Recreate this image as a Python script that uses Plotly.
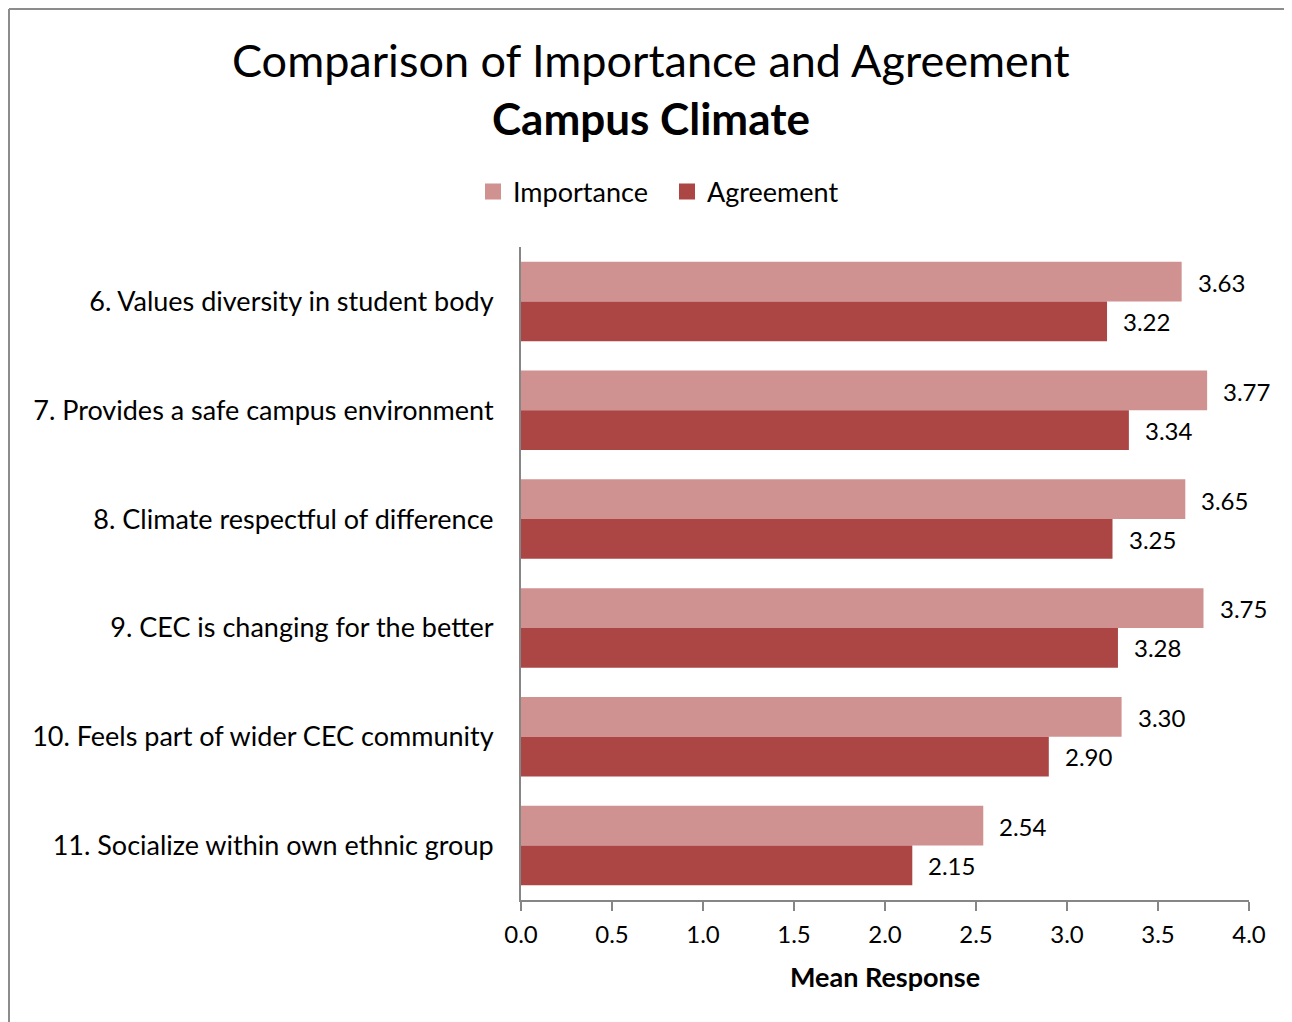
import plotly.graph_objects as go

categories = [
    "6. Values diversity in student body",
    "7. Provides a safe campus environment",
    "8. Climate respectful of difference",
    "9. CEC is changing for the better",
    "10. Feels part of wider CEC community",
    "11. Socialize within own ethnic group",
]
importance = [3.63, 3.77, 3.65, 3.75, 3.30, 2.54]
agreement = [3.22, 3.34, 3.25, 3.28, 2.90, 2.15]
x_ticks = [0.0, 0.5, 1.0, 1.5, 2.0, 2.5, 3.0, 3.5, 4.0]

OFF = 8  # page body margin
W, H = 1292 - OFF, 1022 - OFF
L, T = 521 - OFF, 247 - OFF
R = W - (1249 - OFF)
B = H - (900 - OFF)
PW, PH = W - L - R, H - T - B

def px_x(p):
    return (p - OFF - L) / PW

def px_y(p):
    return (H - B - (p - OFF)) / PH

FONT = "Lato, Calibri, sans-serif"
C_IMP = "#D09291"
C_AGR = "#AB4644"

fig = go.Figure()
fig.add_trace(go.Bar(y=categories, x=importance, name="Importance", orientation="h",
                     marker=dict(color=C_IMP, line=dict(width=0)), showlegend=False))
fig.add_trace(go.Bar(y=categories, x=agreement, name="Agreement", orientation="h",
                     marker=dict(color=C_AGR, line=dict(width=0)), showlegend=False))
for name, col in (("Importance", C_IMP), ("Agreement", C_AGR)):
    fig.add_trace(go.Scatter(x=[None], y=[None], mode="markers", name=name,
                             marker=dict(symbol="square", size=16, color=col)))

annotations = []
for c, v in zip(categories, importance):
    annotations.append(dict(x=v, y=c, xref="x", yref="y", text=f"{v:.2f}", showarrow=False,
                            xanchor="left", xshift=14, yshift=19,
                            font=dict(family=FONT, size=24, color="black")))
for c, v in zip(categories, agreement):
    annotations.append(dict(x=v, y=c, xref="x", yref="y", text=f"{v:.2f}", showarrow=False,
                            xanchor="left", xshift=14, yshift=-20,
                            font=dict(family=FONT, size=24, color="black")))

annotations.append(dict(x=px_x(651), y=px_y(60), xref="paper", yref="paper",
                        text="Comparison of Importance and Agreement", showarrow=False,
                        xanchor="center", yanchor="middle",
                        font=dict(family=FONT, size=45, color="black")))
annotations.append(dict(x=px_x(651), y=px_y(118), xref="paper", yref="paper",
                        text="<b>Campus Climate</b>", showarrow=False,
                        xanchor="center", yanchor="middle",
                        font=dict(family=FONT, size=44, color="black")))

shapes = [
    dict(type="line", xref="paper", yref="paper", x0=px_x(9), x1=px_x(9), y0=px_y(9), y1=px_y(1040),
         line=dict(color="#8C8C8C", width=2)),
    dict(type="line", xref="paper", yref="paper", x0=px_x(9), x1=px_x(1300), y0=px_y(9), y1=px_y(9),
         line=dict(color="#8C8C8C", width=2)),
]

fig.update_layout(
    width=W, height=H,
    margin=dict(l=L, r=R, t=T, b=B, pad=0),
    paper_bgcolor="white", plot_bgcolor="white",
    barmode="group", bargap=0.27, bargroupgap=0,
    font=dict(family=FONT, color="black"),
    showlegend=True,
    legend=dict(orientation="h", x=px_x(667), y=px_y(192), xanchor="center", yanchor="middle",
                font=dict(family=FONT, size=27, color="black"), traceorder="normal",
                entrywidth=149, entrywidthmode="pixels",
                bgcolor="rgba(0,0,0,0)"),
    annotations=annotations,
    shapes=shapes,
)
fig.update_yaxes(
    type="category", autorange="reversed", categoryorder="array", categoryarray=categories,
    showline=True, linecolor="#868686", linewidth=2, showgrid=False, zeroline=False,
    ticks="", ticklabelstandoff=20,
    tickfont=dict(family=FONT, size=27, color="black"),
)
fig.update_xaxes(
    range=[0, 4.0], tickvals=x_ticks, ticktext=[f"{v:.1f}" for v in x_ticks],
    showline=True, linecolor="#868686", linewidth=2, showgrid=False, zeroline=False,
    ticks="outside", ticklen=9, tickwidth=2, tickcolor="#868686", ticklabelstandoff=3,
    tickfont=dict(family=FONT, size=24, color="black"),
    title=dict(text="<b>Mean Response</b>", font=dict(family=FONT, size=27, color="black"), standoff=21),
)

fig.write_html("out.html")
